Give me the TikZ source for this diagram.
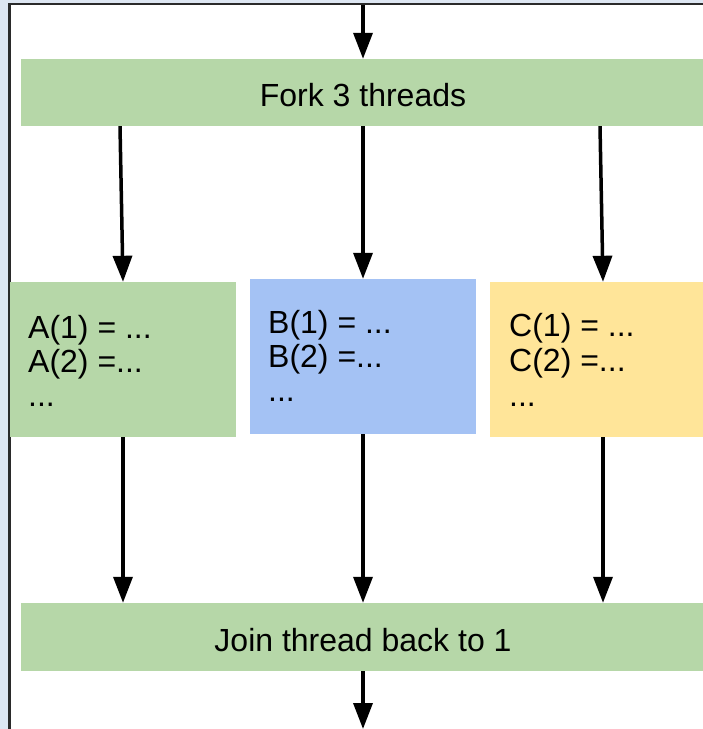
\documentclass[tikz,border=0pt]{standalone}
\usepackage{fontspec}
\setmainfont{Liberation Sans}
\usetikzlibrary{arrows.meta}

\definecolor{pagebg}{HTML}{DDE6F2}
\definecolor{framegray}{HTML}{2A2A2A}
\definecolor{greenbox}{HTML}{B6D7A8}
\definecolor{bluebox}{HTML}{A4C2F4}
\definecolor{yellowbox}{HTML}{FFE599}

\tikzset{
  box/.style={draw=none, inner sep=0pt, minimum width=#1},
  box/.default=226pt,
  stepbox/.style={box=#1, minimum height=155pt},
  barbox/.style={box=684pt, minimum height=67pt, fill=greenbox, text depth=0pt},
  codeline/.style={anchor=base west, inner sep=0pt},
  flow/.style={line width=3.5pt, -{Triangle[length=26pt,width=19pt]}},
}

\begin{document}
\begin{tikzpicture}[x=1pt, y=-1pt,
  every node/.style={font=\fontsize{32pt}{33pt}\selectfont}]
  \useasboundingbox (0,0) rectangle (703,729);
  \clip (0,0) rectangle (703,729);

  % page background and framed white sheet
  \fill[pagebg] (0,0) rectangle (703,729);
  \fill[white] (9.5,4) rectangle (720,740);
  \draw[framegray, line width=2.5pt] (9.5,740) -- (9.5,4) -- (720,4);

  % fork and join bars
  \node[barbox, text height=27pt] (fork) at (363,92.5) {Fork 3 threads};
  \node[barbox, text height=28pt, minimum height=68pt] (join) at (363,637) {Join thread back to 1};

  % the three worker blocks
  \node[stepbox, fill=greenbox]  (A) at (123,359.5) {};
  \node[stepbox, fill=bluebox]   (B) at (363,356.5) {};
  \node[stepbox, fill=yellowbox] (C) at (603,359.5) {};

  \node[codeline] (a1) at (28,338) {A(1) = ...};
  \node[codeline] (a2) at (28,372) {A(2) =...};
  \node[codeline] (a3) at (28,406) {...};

  \node[codeline] (b1) at (268,333) {B(1) = ...};
  \node[codeline] (b2) at (268,367) {B(2) =...};
  \node[codeline] (b3) at (268,401) {...};

  \node[codeline] (c1) at (509,336) {C(1) = ...};
  \node[codeline] (c2) at (509,371) {C(2) =...};
  \node[codeline] (c3) at (509,406) {...};

  % incoming and outgoing flow
  \coordinate (entry) at (363,5);
  \coordinate (exit) at (363,729);
  \draw[flow] (entry) -- (fork.north);
  \draw[flow] (join.south) -- (exit);

  % fork into threads
  \draw[flow] ([xshift=-3pt]fork.south -| A.north) -- (A.north);
  \draw[flow] (fork.south -| B.north) -- (B.north);
  \draw[flow] ([xshift=-3pt]fork.south -| C.north) -- (C.north);

  % threads back into the join
  \draw[flow] (A.south) -- (A.south |- join.north);
  \draw[flow] (B.south) -- (B.south |- join.north);
  \draw[flow] (C.south) -- (C.south |- join.north);
\end{tikzpicture}
\end{document}
